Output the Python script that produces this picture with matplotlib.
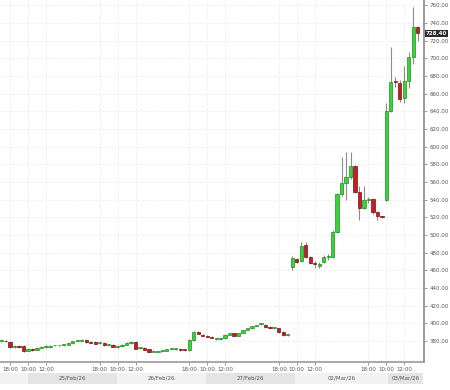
import matplotlib
matplotlib.use("Agg")
import matplotlib.pyplot as plt
import matplotlib.transforms as mtransforms
import numpy as np

# ---- data (30-min candles, index based axis) ----
opens = [380, 380.5, 379, 373.5, 374, 374, 369, 370.5, 370, 372.5,
         373.5, 373.5, 375, 375, 375.5, 375.5, 377.5, 380.5, 380.5, 381,
         379, 378.5, 377.5, 378, 375.5, 375.5, 373.5, 374, 376, 378,
         379, 372, 372, 370.5, 368, 368, 368.5, 369, 370.5, 371,
         371, 370, 369.5, 381, 390, 386.5, 385.5, 385, 382.5, 382.5,
         383, 387, 388.5, 386, 389, 392.5, 394.5, 397, 399, 398.5,
         395.5, 394.5, 394.5, 390, 386.5,
         464, 473, 471, 489, 475, 468, 465, 469, 475, 475,
         504, 546, 559, 566, 578, 549, 531, 540, 541, 526, 520.5,
         540, 640, 674, 672, 655, 675, 702, 736]
highs = [381.5, 381, 380, 375, 375, 375, 372, 371.5, 373.5, 374,
         375, 375.5, 376, 376, 376.5, 378, 380, 381.5, 382.5, 382,
         380, 379.5, 378.5, 378.5, 376.5, 376.5, 375, 376.5, 378.5, 379.5,
         380, 373, 373, 371, 369.5, 369, 369.5, 371, 372, 372,
         372, 371, 382, 391.5, 391, 387.5, 386.5, 386, 383.5, 383.5,
         387.5, 389.5, 389.5, 389.5, 393, 395, 397.5, 398.5, 400.5, 399.5,
         396.5, 395.5, 395, 391, 387.5,
         476, 474, 492, 492, 476, 471, 469, 477, 479, 506,
         548, 588, 594, 594, 579, 555, 555, 543, 542, 527, 521,
         649, 713, 679, 676, 691, 707, 758, 737]
lows = [379, 378.5, 372, 372.5, 372.5, 368, 368.5, 369, 369.5, 371.5,
        372.5, 372.5, 374, 374, 374.5, 375, 377, 379.5, 379.5, 378,
        377.5, 376.5, 376.5, 374, 374.5, 374.5, 372.5, 373.5, 375.5, 377,
        370.5, 371, 369.5, 367, 367, 367, 367.5, 368.5, 369.5, 370,
        369, 368.5, 369, 380.5, 387.5, 385.5, 384.5, 383, 381.5, 381.5,
        382.5, 386.5, 385.5, 385.5, 388.5, 392, 394, 396.5, 398, 395,
        394.5, 393.5, 389.5, 386, 385.5,
        460, 468, 470, 474, 467, 463, 463, 468, 472, 474,
        502, 544, 540, 564, 548, 517, 529, 536, 524, 517, 519,
        538, 639, 668, 651, 650, 666, 694, 720]
closes = [380.5, 379.5, 373, 374, 373.5, 368.5, 370.5, 370, 372.5, 373,
          373.5, 374.5, 375, 375, 375.5, 377.5, 379.5, 380.5, 381.5, 378.5,
          378, 377, 377.5, 375, 375.5, 373.5, 374, 376, 378, 378.5,
          371, 372, 370, 367.5, 368, 368.5, 369, 370.5, 371.5, 371,
          369.5, 369.5, 381, 390.5, 388, 386, 385, 383.5, 382.5, 383,
          387, 389, 386, 389, 392.5, 394.5, 397, 398.5, 399, 395.5,
          395, 394.5, 390, 386.5, 386.5,
          474, 470, 488, 475, 468, 467, 467, 475, 475.5, 504,
          546, 559, 566, 578, 549, 531, 540, 541, 526, 521, 520,
          640, 673, 673, 654, 675, 702, 736, 728.4]

tick_idx = [2, 6, 10, 22, 26, 30, 42, 46, 50, 62, 66, 70, 82, 86, 90]
tick_labels = ["18:00", "10:00", "12:00"] * 5
day_labels = ["", "25/Feb/26", "26/Feb/26", "27/Feb/26", "02/Mar/26", "03/Mar/26"]
day_starts = [-0.3, 5.9, 25.8, 45.8, 65.6, 86.4]
day_end = 94.2
price_ticks = list(range(380, 761, 20))
last_price = 728.40

# ---- figure ----
W, H = 450, 390
fig = plt.figure(figsize=(W / 100, H / 100), dpi=100)
fig.patch.set_facecolor("white")
ax_right = 424
ax_bottom = 362
ax = fig.add_axes([0, 1 - ax_bottom / H, ax_right / W, ax_bottom / H])
XMIN, XMAX = -0.25, 94.4
ax.set_xlim(XMIN, XMAX)
ax.set_ylim(356.2, 766.2)

x = np.arange(len(opens))
o = np.array(opens, float)
c = np.array(closes, float)
h = np.array(highs, float)
l = np.array(lows, float)
up = c >= o

ax.vlines(x, l, h, color="#8c8c8c", linewidth=0.8, zorder=2)
bottoms = np.minimum(o, c)
heights = np.maximum(np.abs(c - o), 1.0)
ax.bar(x[up], heights[up], bottom=bottoms[up], width=0.72,
       color="#3ad23a", edgecolor="#1f8f1f", linewidth=0.5, zorder=3)
ax.bar(x[~up], heights[~up], bottom=bottoms[~up], width=0.72,
       color="#c21f24", edgecolor="#7a0f12", linewidth=0.5, zorder=3)

# axes styling
for s in ["top", "left"]:
    ax.spines[s].set_visible(False)
ax.spines["right"].set_color("#9a9a9a")
ax.spines["right"].set_linewidth(1.4)
ax.spines["bottom"].set_color("#9a9a9a")
ax.spines["bottom"].set_linewidth(1.2)
ax.yaxis.tick_right()
ax.set_yticks(price_ticks)
ax.set_yticklabels([f"{v:.2f}" for v in price_ticks])
ax.tick_params(axis="y", which="both", length=2.5, width=0.6, color="#888888",
               labelsize=4, labelcolor="#555555", pad=1.5, left=False)
ax.set_xticks(tick_idx)
ax.set_xticklabels(tick_labels)
ax.tick_params(axis="x", length=2, width=0.6, color="#888888",
               labelsize=4, labelcolor="#555555", pad=1.5)
ax.grid(True, color="#dedede", linestyle=(0, (1, 2)), linewidth=0.6)
ax.set_axisbelow(True)

# last price tag
trans = mtransforms.blended_transform_factory(ax.transAxes, ax.transData)
ax.text(1.005, last_price, f"{last_price:.2f}", transform=trans, ha="left", va="center",
        fontsize=4, color="white", fontweight="bold", clip_on=False,
        bbox=dict(boxstyle="square,pad=0.2", fc="#2b2b2b", ec="none"))

# date band
bx = fig.add_axes([0, 1 - 384 / H, ax_right / W, 11 / H])
bx.set_xlim(XMIN, XMAX)
bx.set_ylim(0, 1)
bx.axis("off")
edges = day_starts + [day_end]
for k, lab in enumerate(day_labels):
    col = "#e4e4e4" if k % 2 == 1 else "#f2f2f2"
    bx.axvspan(edges[k], edges[k + 1], color=col, lw=0)
    if lab:
        bx.text((edges[k] + edges[k + 1]) / 2, 0.5, lab, ha="center", va="center",
                fontsize=4, color="#555555")

fig.savefig("out.png", dpi=100, facecolor="white")
